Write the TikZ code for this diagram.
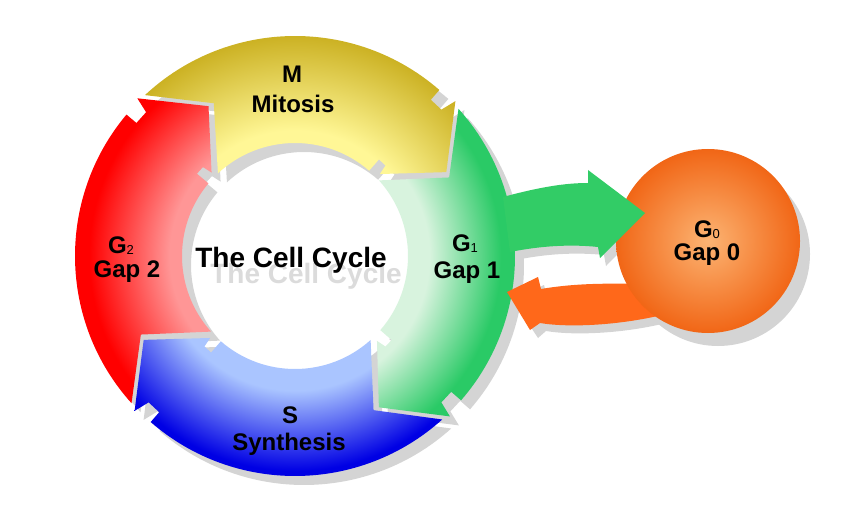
\documentclass[tikz,border=0pt]{standalone}
\usepackage{fontspec}
\setmainfont{Liberation Sans}
\usepackage{tikz}

\definecolor{shadowgray}{RGB}{212,212,212}
\definecolor{mlight}{RGB}{255,247,150}
\definecolor{mdark}{RGB}{204,178,36}
\definecolor{glight}{RGB}{216,243,222}
\definecolor{gdark}{RGB}{42,202,102}
\definecolor{slight}{RGB}{170,197,255}
\definecolor{sdark}{RGB}{0,0,228}
\definecolor{rlight}{RGB}{255,150,150}
\definecolor{rdark}{RGB}{255,0,0}
\definecolor{olight}{RGB}{252,180,115}
\definecolor{odark}{RGB}{241,102,22}
\definecolor{arrowgreen}{RGB}{50,204,102}
\definecolor{arroworange}{RGB}{255,104,26}

\pgfdeclareradialshading{mring}{\pgfpoint{0bp}{0bp}}{color(0bp)=(mlight); color(14bp)=(mlight); color(24.5bp)=(mdark); color(50bp)=(mdark)}
\pgfdeclareradialshading{gring}{\pgfpoint{0bp}{0bp}}{color(0bp)=(glight); color(15bp)=(glight); color(23bp)=(gdark); color(50bp)=(gdark)}
\pgfdeclareradialshading{sring}{\pgfpoint{0bp}{0bp}}{color(0bp)=(slight); color(15bp)=(slight); color(24bp)=(sdark); color(50bp)=(sdark)}
\pgfdeclareradialshading{rring}{\pgfpoint{0bp}{0bp}}{color(0bp)=(rlight); color(14bp)=(rlight); color(23bp)=(rdark); color(50bp)=(rdark)}

% one arc arrow of the ring: tail angle, head angle
\newcommand{\cyclepart}[2]{(#1:220) arc[start angle=#1, end angle=#2+5, radius=220] -- (#2+5:207) -- (#2+1:207) -- (#2:223) -- (#2-15:173) -- (#2:118) -- (#2+1:128) -- (#2+5:128) -- (#2+5:113) arc[start angle=#2+5, end angle=#1, radius=113] -- (#1-15:173) -- cycle}
\newcommand{\lowidx}[1]{\raisebox{-1pt}{\fontsize{13}{13}\mdseries\selectfont#1}}

\begin{document}
\begin{tikzpicture}[x=1pt,y=1pt,
	lbl/.style={font=\bfseries\fontsize{24}{24}\selectfont, inner sep=0pt, anchor=base}]
	\useasboundingbox (0,0) rectangle (850,520);
	
	\begin{scope}[shift={(304,255)}]
	\fill[shadowgray] \cyclepart{133}{44};
	\fill[shadowgray] \cyclepart{42}{-46};
	\fill[shadowgray] \cyclepart{-48}{-136};
	\fill[shadowgray] \cyclepart{222}{135};
	\end{scope}
	\fill[shadowgray] (718,266) circle (92);
	\fill[shadowgray] (513,220) -- (544,235) -- (547,223) .. controls (580,228) and (610,229) .. (640,228) -- (666,197) .. controls (626,187) and (576,184) .. (546,189) -- (538,182) -- cycle;
	\fill[shadowgray] (509,315) .. controls (545,325) and (570,329) .. (594,329) -- (594,342) -- (650,299) -- (606,254) -- (604,265) .. controls (575,268) and (545,266) .. (516,260) -- cycle;
	
	\begin{scope}[shift={(295,264)}]
	\begin{scope}
	\clip \cyclepart{133}{44};
	\shade[shading=mring] (0,0) circle (224);
	\end{scope}
	\begin{scope}
	\clip \cyclepart{42}{-46};
	\shade[shading=gring] (0,0) circle (224);
	\end{scope}
	\begin{scope}
	\clip \cyclepart{-48}{-136};
	\shade[shading=sring] (0,0) circle (224);
	\end{scope}
	\begin{scope}
	\clip \cyclepart{222}{135};
	\shade[shading=rring] (0,0) circle (224);
	\end{scope}
	\end{scope}
	
	\fill[arroworange] (507,228) -- (538,243) -- (541,231) .. controls (570,236) and (600,237) .. (640,236) -- (662,205) .. controls (620,195) and (570,192) .. (540,197) -- (530,190) -- cycle;
	\node[circle, minimum size=184pt, inner sep=0pt, inner color=olight, outer color=odark] (g0) at (708,279) {};
	\fill[arrowgreen] (503,323) .. controls (540,333) and (565,337) .. (588,337) -- (588,350) -- (645,307) -- (600,262) -- (598,273) .. controls (570,276) and (540,274) .. (510,268) -- cycle;
	
	\begin{scope}
	\clip (295,264) circle (113);
	\node[lbl, font=\bfseries\fontsize{28}{28}\selectfont, text=black!14] (titleshadow) at (306,237) {The Cell Cycle};
	\end{scope}
	\node[lbl, font=\bfseries\fontsize{28}{28}\selectfont] (title) at (291,253) {The Cell Cycle};
	
	\node[lbl] (mlabel) at (292,437) {M};
	\node[lbl] (mtext) at (293,407) {Mitosis};
	\node[lbl] (g1label) at (465,269) {G\lowidx{1}};
	\node[lbl] (g1text) at (467,242) {Gap 1};
	\node[lbl] (slabel) at (290,97) {S};
	\node[lbl] (stext) at (289,70) {Synthesis};
	\node[lbl] (g2label) at (121,267) {G\lowidx{2}};
	\node[lbl] (g2text) at (127,243) {Gap 2};
	\node[lbl] (g0label) at (707,283) {G\lowidx{0}};
	\node[lbl] (g0text) at (707,260) {Gap 0};
\end{tikzpicture}
\end{document}
